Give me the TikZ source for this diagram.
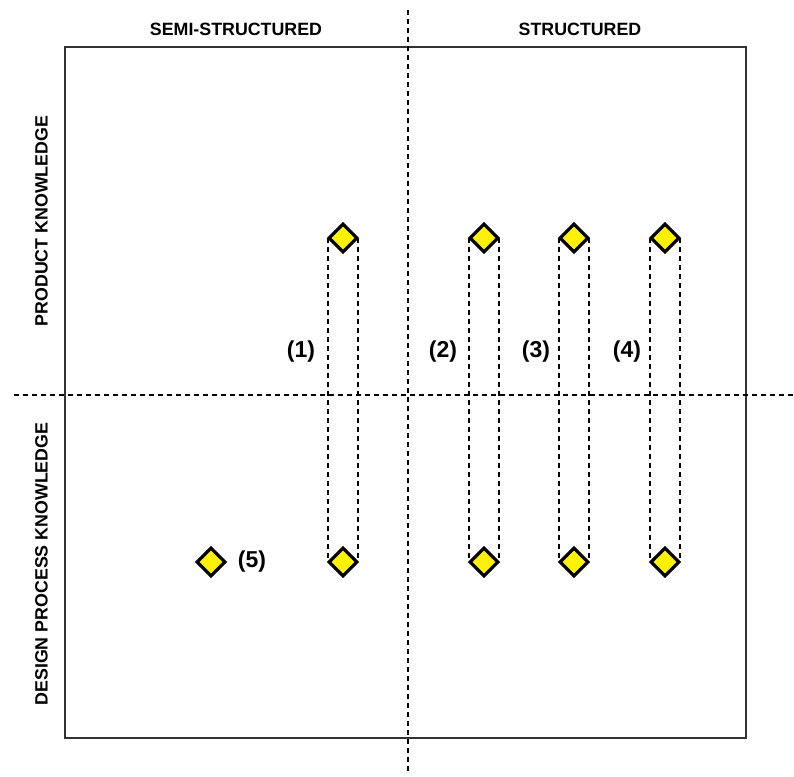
\documentclass[tikz,border=0pt]{standalone}
\usepackage{fontspec}
\setmainfont{Liberation Sans}
\usetikzlibrary{shapes.geometric}
\begin{document}
\begin{tikzpicture}[x=1pt,y=-1pt,
  frame/.style={draw=black!80,line width=1.3pt},
  axis/.style={draw=black,line width=1.1pt,dash pattern=on 5pt off 4pt},
  link/.style={draw=black,line width=1.1pt,dash pattern=on 5pt off 4pt},
  gem/.style={diamond,draw=black,fill=yellow,line width=3.2pt,minimum width=29pt,minimum height=29pt,inner sep=0pt},
  head/.style={font=\bfseries\fontsize{17.8}{20}\selectfont,inner sep=0pt},
  tag/.style={font=\bfseries\fontsize{23}{26}\selectfont,inner sep=0pt}]
\useasboundingbox (0,0) rectangle (794,776);
% quadrant frame
\draw[frame] (65,47) rectangle (746,738);
% axes
\coordinate (vtop) at (408,10);
\coordinate (vbot) at (408,772);
\coordinate (hl) at (14,395);
\coordinate (hr) at (794,395);
\draw[axis] (vtop) -- (vbot);
\draw[axis] (hl) -- (hr);
% axis headings
\node[head] (semi) at (236,29.5) {SEMI-STRUCTURED};
\node[head] (struct) at (580,29.5) {STRUCTURED};
\node[head,rotate=90] (prod) at (41.5,221) {PRODUCT KNOWLEDGE};
\node[head,rotate=90] (proc) at (41.5,564) {DESIGN PROCESS KNOWLEDGE};
% paired items: dashed bands then markers
\foreach \i/\x in {1/343,2/484,3/574,4/665}{
  \coordinate (t\i l) at (\x-15,238);
  \coordinate (t\i r) at (\x+15,238);
  \coordinate (b\i l) at (\x-15,562);
  \coordinate (b\i r) at (\x+15,562);
  \draw[link] (t\i l) -- (b\i l);
  \draw[link] (t\i r) -- (b\i r);
  \node[gem] (top\i) at (\x,238) {};
  \node[gem] (bot\i) at (\x,562) {};
}
\node[gem] (solo) at (211,562) {};
% item labels
\node[tag] (l1) at (301,352) {(1)};
\node[tag] (l2) at (443,352) {(2)};
\node[tag] (l3) at (536,352) {(3)};
\node[tag] (l4) at (627,352) {(4)};
\node[tag] (l5) at (252,562) {(5)};
\end{tikzpicture}
\end{document}
